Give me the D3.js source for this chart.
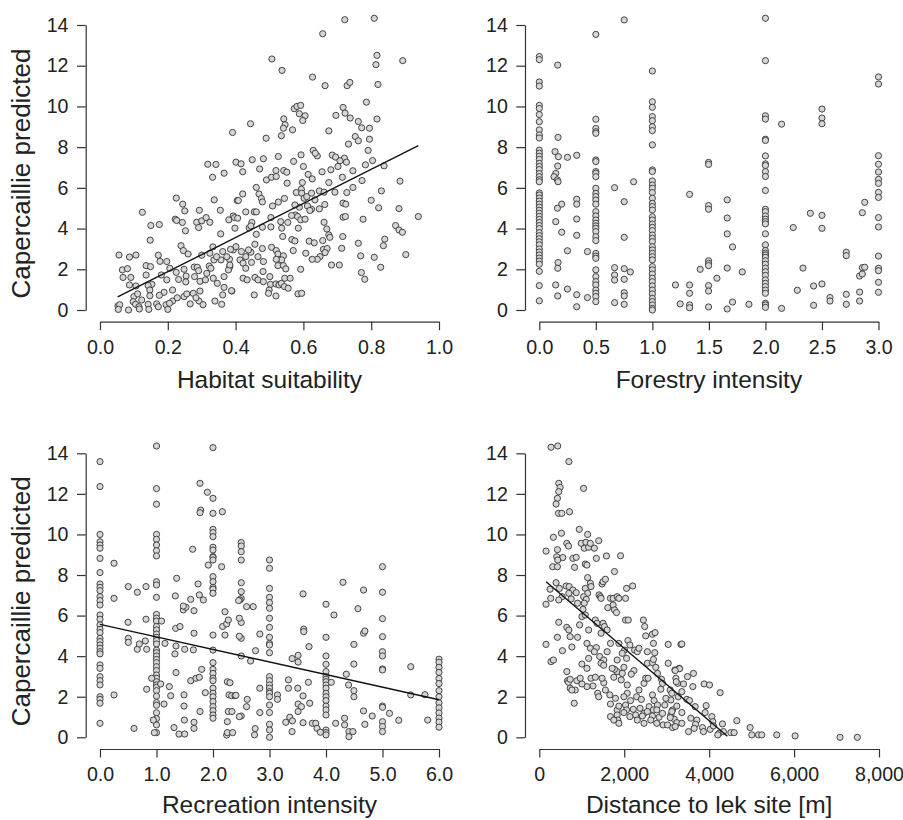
<!DOCTYPE html>
<html>
<head>
<meta charset="utf-8">
<script src="https://cdn.jsdelivr.net/npm/d3@7"></script>
<style>
  body { margin: 0; background: #fff; }
  svg { display: block; font-family: "Liberation Sans", Arial, Helvetica, sans-serif; }
  .tick text { font-size: 19.6px; fill: #222; }
  .axis path, .axis line { stroke: #333; stroke-width: 1.2; }
  .title { font-size: 24.5px; fill: #222; }
  .ylab { font-size: 26px; fill: #222; }
  .dot { fill: #d6d6d6; stroke: #333; stroke-width: 0.9; }
  .fit { stroke: #111; stroke-width: 1.4; fill: none; }
</style>
</head>
<body>
<div id="chart"></div>
<script>
// ---- data ----
var yTicks = [0, 2, 4, 6, 8, 10, 12, 14];

// habitat suitability vs predicted
var habitatPts = [
  [0.056,2.7],[0.087,2.6],[0.106,2.7],[0.066,1.97],[0.081,2.03],[0.068,1.6],[0.091,1.6],[0.087,1.23],[0.106,1.18],
  [0.053,0.2],[0.058,0.26],[0.084,0.0],[0.054,0.03],[0.1,0.66],[0.111,0.79],[0.098,0.41],[0.105,0.28],[0.115,0.16],
  [0.116,0.05],[0.125,4.8],[0.15,4.15],[0.175,4.2],[0.148,3.43],[0.136,2.18],[0.149,2.13],[0.136,1.72],[0.153,1.26],
  [0.142,1.2],[0.147,0.98],[0.147,0.7],[0.142,0.28],[0.144,0.03],[0.167,0.3],[0.172,0.16],[0.189,0.87],[0.195,0.26],
  [0.2,0.03],[0.172,2.69],[0.177,2.39],[0.197,2.38],[0.197,1.48],[0.206,2.05],[0.181,1.72],[0.225,5.5],[0.244,5.2],
  [0.25,4.87],[0.222,4.46],[0.226,4.4],[0.243,4.3],[0.252,3.89],[0.239,3.16],[0.246,2.92],[0.26,2.75],[0.225,1.85],
  [0.232,1.5],[0.214,0.44],[0.205,0.33],[0.228,0.6],[0.248,0.66],[0.256,0.79],[0.248,2.0],[0.254,1.67],[0.253,1.38],
  [0.266,0.3],[0.275,0.82],[0.279,1.64],[0.278,2.11],[0.285,4.31],[0.291,4.05],[0.293,4.9],[0.3,4.38],[0.287,2.1],
  [0.291,1.93],[0.295,1.41],[0.295,0.93],[0.292,0.44],[0.304,0.26],[0.283,0.6],[0.3,2.69],[0.313,4.54],[0.324,4.31],
  [0.318,7.16],[0.342,7.15],[0.332,6.52],[0.337,5.41],[0.355,4.9],[0.356,3.74],[0.333,3.1],[0.324,2.79],[0.322,2.16],
  [0.327,2.05],[0.334,1.56],[0.346,1.31],[0.339,0.44],[0.359,0.28],[0.366,6.72],[0.362,2.87],[0.366,1.64],[0.366,1.11],
  [0.362,0.74],[0.336,2.46],[0.357,2.46],[0.344,2.62],[0.38,4.43],[0.393,4.62],[0.398,4.02],[0.391,8.72],[0.401,7.26],
  [0.405,5.38],[0.382,2.49],[0.383,2.13],[0.389,0.93],[0.393,2.95],[0.379,1.97],[0.311,1.48],[0.315,1.8],[0.374,2.62],
  [0.214,0.98],[0.175,0.72],[0.123,0.49],
  [0.722,14.26],[0.809,14.33],[0.657,13.57],[0.507,12.33],[0.537,11.77],[0.817,12.51],[0.814,12.05],[0.893,12.25],
  [0.627,11.44],[0.664,11.02],[0.729,11.02],[0.737,11.18],[0.82,11.08],[0.786,10.21],[0.573,9.89],[0.581,10.0],
  [0.592,10.05],[0.588,9.64],[0.605,9.54],[0.598,9.31],[0.542,9.39],[0.546,9.1],[0.541,8.93],[0.535,8.56],[0.568,8.85],
  [0.444,9.15],[0.49,8.44],[0.675,8.8],[0.717,9.95],[0.723,9.67],[0.696,9.56],[0.738,9.43],[0.762,9.26],[0.772,8.95],
  [0.795,8.93],[0.817,9.38],[0.753,8.52],[0.762,8.31],[0.795,8.39],[0.791,7.84],[0.733,8.15],[0.629,7.84],[0.641,7.57],
  [0.635,7.7],[0.685,7.61],[0.695,7.51],[0.721,7.46],[0.708,7.33],[0.727,7.26],[0.702,7.05],[0.681,6.89],[0.655,6.79],
  [0.6,7.05],[0.593,7.62],[0.571,7.3],[0.526,7.54],[0.482,7.43],[0.449,7.38],[0.416,7.18],[0.421,6.79],[0.471,6.93],
  [0.519,6.85],[0.542,6.85],[0.551,6.77],[0.614,6.66],[0.626,6.44],[0.491,6.39],[0.506,6.52],[0.52,6.56],[0.552,6.23],
  [0.597,6.26],[0.594,5.93],[0.579,5.77],[0.595,5.74],[0.602,5.49],[0.61,5.57],[0.624,5.74],[0.647,5.85],[0.661,5.79],
  [0.675,6.26],[0.693,5.79],[0.715,6.52],[0.746,6.84],[0.783,7.13],[0.804,7.34],[0.773,6.36],[0.746,6.02],[0.728,5.77],
  [0.838,7.08],[0.885,6.33],[0.83,5.85],[0.8,5.39],[0.822,5.02],[0.882,4.98],[0.939,4.59],[0.776,4.46],[0.717,5.25],
  [0.725,5.2],[0.717,4.56],[0.724,4.59],[0.634,5.41],[0.663,5.18],[0.647,4.97],[0.624,4.95],[0.612,5.11],[0.619,4.89],
  [0.588,5.05],[0.575,5.16],[0.577,4.67],[0.583,4.59],[0.592,4.43],[0.605,4.46],[0.565,4.64],[0.544,5.48],[0.526,5.3],
  [0.509,5.11],[0.461,6.02],[0.469,5.7],[0.476,5.48],[0.479,5.31],[0.421,5.7],[0.408,5.38],[0.43,4.82],[0.455,4.82],
  [0.461,4.82],[0.397,4.54],[0.406,4.51],[0.448,4.3],[0.44,4.03],[0.479,4.07],[0.504,4.54],[0.504,4.08],[0.533,4.34],
  [0.536,4.02],[0.554,4.3],[0.539,3.61],[0.585,4.02],[0.661,4.31],[0.669,3.98],[0.675,3.69],[0.678,3.57],[0.716,3.61],
  [0.566,3.46],[0.575,3.39],[0.617,3.38],[0.632,3.3],[0.657,3.41],[0.57,2.92],[0.659,2.98],[0.67,3.02],[0.664,2.82],
  [0.649,2.62],[0.641,2.49],[0.626,2.49],[0.607,2.79],[0.683,2.21],[0.706,2.21],[0.713,3.03],[0.762,3.28],[0.769,2.66],
  [0.809,2.59],[0.84,3.48],[0.836,3.16],[0.872,4.15],[0.882,3.93],[0.892,3.82],[0.902,2.72],[0.828,2.1],[0.771,1.84],
  [0.781,1.51],[0.592,2.0],[0.445,4.13],[0.461,3.72],[0.457,3.23],[0.445,2.84],[0.479,3.02],[0.506,3.08],[0.52,2.92],
  [0.525,2.75],[0.541,2.66],[0.536,2.46],[0.52,2.49],[0.525,2.18],[0.541,2.18],[0.548,2.02],[0.482,2.38],[0.466,2.62],
  [0.447,2.34],[0.43,2.62],[0.438,2.95],[0.417,2.87],[0.413,2.46],[0.401,3.11],[0.422,2.3],[0.43,2.05],[0.422,1.56],
  [0.434,1.48],[0.457,1.6],[0.466,1.48],[0.481,1.89],[0.482,1.39],[0.501,1.64],[0.503,1.26],[0.499,0.98],[0.497,0.82],
  [0.519,1.28],[0.528,1.23],[0.535,1.31],[0.545,1.56],[0.561,1.56],[0.544,1.15],[0.555,1.07],[0.519,0.69],[0.455,0.74],
  [0.584,0.79],[0.595,0.82],[0.388,0.95],[0.385,2.98],[0.383,2.21]
];
var habitatLine = [[0.052, 0.64], [0.939, 8.08]];

// forestry intensity: stacked columns plus scattered points
var forestryColumns = [
  [0.0, [12.45,12.3,11.2,11.0,10.05,9.9,9.6,9.25,8.85,8.6,8.45,7.85,7.7,7.55,7.4,7.2,7.05,6.9,6.7,6.55,6.4,6.3,
         5.75,5.65,5.5,5.35,5.2,5.05,4.9,4.75,4.6,4.45,4.3,4.15,4.0,3.8,3.65,3.5,3.35,3.2,3.0,2.85,2.7,2.55,2.4,2.25,
         1.9,1.2,0.45]],
  [0.5, [13.54,9.37,8.92,8.76,8.68,7.37,7.29,6.8,6.72,6.55,5.98,5.73,5.57,5.4,5.2,4.83,4.62,4.42,4.26,4.13,4.01,
         3.85,3.6,3.41,2.78,2.65,2.54,1.97,1.64,1.39,1.23,0.98,0.82,0.66,0.41]],
  [1.0, [11.74,10.23,9.96,9.5,9.3,9.0,8.81,8.11,6.88,6.8,6.34,6.14,5.98,5.77,5.49,5.24,5.08,4.91,4.58,4.42,4.22,
         4.06,3.9,3.68,3.52,3.36,3.11,2.95,2.78,2.62,2.46,2.13,1.97,1.77,1.56,1.39,1.18,0.98,0.79,0.57,0.41,0.25,0.08,0.0]],
  [2.0, [14.33,12.25,9.54,9.38,8.39,8.33,7.57,7.18,7.1,6.8,6.56,5.87,4.95,4.83,4.62,4.46,4.34,4.23,3.74,3.2,2.92,
         2.79,2.7,2.59,2.42,2.25,2.06,1.88,1.7,1.48,1.31,1.15,0.98,0.82,0.33,0.25,0.13]],
  [2.5, [9.87,9.43,9.15,4.65,4.01,1.28]],
  [3.0, [11.45,11.1,7.58,7.16,6.78,6.42,6.22,5.78,5.53,4.54,4.08,2.65,2.05,1.93,1.36,0.87]]
];
var forestryOther = [
  [0.139,7.78],[0.163,12.03],[0.166,8.48],[0.145,6.71],[0.13,6.55],[0.16,6.39],[0.166,6.3],[0.169,7.53],[0.163,7.07],
  [0.249,7.5],[0.331,7.6],[0.198,5.2],[0.16,5.0],[0.145,4.34],[0.198,3.82],[0.331,5.44],[0.331,5.2],[0.331,4.47],
  [0.331,3.67],[0.249,2.91],[0.166,2.33],[0.163,2.05],[0.145,1.23],[0.163,0.69],[0.249,1.03],[0.331,0.75],[0.331,0.16],
  [0.426,0.61],[0.426,2.87],
  [0.666,6.01],[0.751,14.25],[0.834,6.3],[0.751,5.32],[0.751,3.57],[0.666,2.08],[0.666,1.72],[0.666,1.47],[0.751,2.03],
  [0.751,1.51],[0.805,1.87],[0.751,0.85],[0.751,0.69],[0.666,0.36],[0.751,0.28],
  [1.204,1.23],[1.246,0.3],[1.329,5.68],[1.329,1.23],[1.329,0.82],[1.329,0.25],[1.329,0.11],[1.423,2.0],[1.497,7.25],
  [1.497,7.15],[1.497,5.13],[1.497,4.95],[1.497,2.42],[1.497,2.29],[1.497,2.18],[1.497,1.2],[1.497,0.93],[1.497,0.15],
  [1.571,1.56],[1.662,5.41],[1.662,4.52],[1.662,3.74],[1.709,3.1],[1.662,2.06],[1.795,1.87],[1.709,0.39],[1.662,0.05],
  [1.854,0.28],[2.143,9.13],[2.143,0.08],[2.246,4.05],[2.332,2.06],[2.282,0.97],[2.397,4.75],[2.426,1.18],[2.426,0.23],
  [2.571,0.61],[2.571,0.44],[2.715,2.84],[2.715,2.67],[2.715,0.77],[2.715,0.28],[2.833,0.88],[2.833,0.44],[2.833,1.67],
  [2.857,1.77],[2.857,2.08],[2.878,2.1],[2.878,5.29],[2.857,4.78]
];

// recreation intensity: stacked columns plus scattered points
var recreationColumns = [
  [0, [13.59,12.36,10.0,9.64,9.48,9.32,8.82,8.12,7.56,7.39,7.23,6.93,6.74,6.52,6.03,5.82,5.54,5.32,5.16,4.88,4.72,
       4.55,4.39,4.22,4.11,3.57,3.4,2.99,2.79,2.58,2.0,1.87,1.68,0.69]],
  [1, [14.36,12.26,11.49,10.0,9.76,9.48,9.2,8.94,7.67,7.51,6.9,6.06,5.87,5.73,5.46,5.29,5.09,4.93,4.77,4.6,4.3,4.17,
       4.01,3.84,3.68,3.48,3.29,3.07,2.91,2.74,2.58,2.46,2.3,2.03,1.71,1.58,1.21,0.92,0.61,0.23]],
  [2, [14.28,11.78,11.04,10.25,10.09,9.89,9.37,9.23,8.91,8.87,8.74,7.92,7.67,7.39,7.3,7.1,5.04,4.3,3.68,3.35,3.15,
       2.91,2.79,2.42,2.17,2.0,1.76,1.51,1.31,1.1,0.94]],
  [2.5, [9.6,9.43,9.15,8.74,7.62,7.18,6.84,5.66,4.88,4.01,1.05]],
  [3, [8.74,8.33,7.34,6.9,6.64,6.36,5.87,5.42,4.93,4.63,4.55,4.17,2.99,2.79,2.58,2.42,2.25,2.17,2.0,1.59,1.22,0.64,
       0.36,0.0]],
  [4, [6.56,4.93,4.01,3.6,3.24,2.99,2.86,2.74,2.58,2.42,2.17,2.0,1.81,1.54,1.35,1.1,0.36,0.23,0.12]],
  [5, [8.41,7.15,5.85,4.96,4.22,4.01,3.37,3.32,1.54,1.48,0.77,0.53,0.28]],
  [6, [3.85,3.7,3.45,3.2,2.9,2.65,2.3,2.0,1.7,1.45,1.2,0.95,0.75,0.5]]
];
var recreationOther = [
  [0.248,2.09],[0.248,6.85],[0.248,8.58],[0.501,7.43],[0.496,5.67],[0.501,4.88],[0.501,4.68],[0.602,0.44],[0.661,7.15],
  [0.661,4.34],[0.696,4.6],[0.814,7.43],[0.814,5.82],[0.802,4.75],[0.826,4.34],[0.826,2.37],
  [0.914,2.91],[0.944,0.85],[0.962,0.23],[1.09,5.73],[1.133,1.64],[1.074,2.63],[1.15,4.63],[1.227,2.5],[1.251,2.05],
  [1.31,0.48],[1.345,3.19],[1.327,4.11],[1.339,5.37],[1.416,5.46],[1.345,4.5],[1.357,7.84],[1.333,6.97],[1.475,6.28],
  [1.522,6.41],[1.475,6.47],[1.605,6.8],[1.664,6.24],[1.64,9.27],[1.664,5.13],[1.499,4.34],[1.652,4.31],[1.398,0.16],
  [1.499,0.16],[1.493,0.85],[1.664,0.74],[1.664,0.44],[1.487,2.09],[1.487,1.54],[1.605,2.79],[1.699,2.91],[1.758,2.96],
  [1.8,3.35],[1.77,1.27],[1.864,2.2],[1.735,7.56],[1.77,12.52],[1.782,11.2],[1.77,11.07],[1.758,7.02],[1.829,6.77],
  [1.9,12.08],[1.917,8.49],
  [2.153,8.41],[2.165,11.12],[2.212,6.19],[2.17,5.46],[2.212,5.04],[2.242,5.59],[2.271,5.78],[2.254,2.74],[2.283,2.09],
  [2.33,2.05],[2.389,2.05],[2.271,1.27],[2.336,1.27],[2.254,0.77],[2.242,0.11],[2.254,0.23],[2.348,0.23],[2.466,1.02],
  [2.478,6.77],[2.466,5.87],[2.466,4.98],[2.453,6.74],[2.594,6.44],[2.712,6.44],[2.665,3.76],[2.753,4.27],[2.829,5.09],
  [2.3,2.69],[2.406,2.07],[2.606,1.87],[2.594,1.51],[2.829,2.42],[2.829,1.22],[2.747,0.43],[2.735,0.12],
  [3.141,2.09],[3.141,1.87],[3.335,2.83],[3.335,2.42],[3.288,0.74],[3.359,0.99],[3.406,0.81],[3.4,0.28],[3.4,3.88],
  [3.506,4.04],[3.506,3.71],[3.5,2.42],[3.594,7.07],[3.606,5.33],[3.606,5.21],[3.7,4.47],[3.688,2.71],[3.594,2.04],
  [3.506,1.64],[3.565,1.51],[3.506,1.27],[3.712,1.68],[3.594,0.72],[3.759,0.69],[3.818,0.69],[3.841,0.44],[3.9,0.25],
  [4.141,6.03],[4.094,2.71],[4.171,0.69],[4.3,7.64],[4.359,3.11],[4.4,2.58],[4.329,0.94],[4.329,0.61],[4.406,0.28],
  [4.406,0.03],[4.476,0.28],[4.494,4.58],[4.494,3.61],[4.494,2.3],[4.494,2.0],[4.565,6.34],[4.665,7.26],[4.665,5.13],
  [4.688,5.24],[4.665,1.3],[4.688,0.64],[4.818,1.05],
  [5.124,1.18],[5.288,0.84],[5.5,3.48],[5.5,2.09],[5.75,2.1],[5.8,0.85]
];
var recreationLine = [[0, 5.57], [6, 1.85]];

// distance to lek site [m]
var distancePts = [
  [277,14.3],[435,14.36],[696,13.59],[1043,12.27],[458,12.52],[490,12.32],[458,12.11],[427,11.78],[395,11.5],[451,11.04],
  [530,11.04],[711,11.12],[522,10.06],[332,9.86],[158,9.18],[427,9.25],[648,9.56],[688,9.43],[941,10.25],[1138,10.0],
  [988,9.56],[1099,9.61],[1059,9.32],[1162,9.37],[1296,9.32],[1399,9.69],[1202,9.56],[411,8.9],[553,8.86],[435,8.74],
  [316,8.41],[427,8.41],[791,8.82],[870,8.87],[830,8.38],[1083,8.54],[1122,8.49],[1344,8.82],[1581,8.94],[1913,8.95],
  [1771,8.17],[395,7.62],[253,7.3],[474,7.34],[632,7.46],[704,7.43],[791,7.26],[696,7.1],[538,6.93],[458,6.77],
  [751,6.82],[870,7.13],[901,6.61],[1083,7.34],[1138,7.87],[1202,7.59],[1217,7.43],[1138,7.1],[1043,6.93],[1107,6.8],
  [1059,6.61],[1028,6.31],[1478,7.56],[1502,7.67],[1557,7.79],[1407,7.02],[1439,6.93],[1455,6.85],[1613,6.39],[1676,6.85],
  [1739,6.85],[1739,6.52],[1834,6.93],[1874,6.85],[1771,6.28],[1818,6.15],[2032,6.85],[2055,7.34],[2198,7.46],[2032,5.78],
  [2095,5.78],[2451,5.78],[2482,5.46],[2506,5.0],[2664,5.08],[2727,5.16],[158,6.56],[269,6.85],[458,5.67],[158,4.58],
  [277,3.73],[427,4.93],[545,4.27],[648,5.42],[696,5.29],[727,4.96],[767,4.45],[901,4.93],[949,5.54],[1004,5.95],
  [1083,6.03],[1162,5.29],[1122,4.63],[1202,4.39],[1320,5.78],[1360,5.62],[1502,5.62],[1534,5.46],[1597,5.29],[1455,5.13],
  [1344,4.42],[1296,4.22],[1423,3.98],[1518,3.81],[1455,3.65],[1162,3.89],[1004,3.61],[1122,3.4],[1217,2.91],[1320,2.96],
  [1265,2.53],[1122,2.5],[1004,2.63],[885,2.79],[664,2.79],[727,2.42],[846,2.33],[822,1.68],[688,2.71],[1375,2.17],
  [1399,2.0],[1518,2.69],[1557,2.33],[1660,2.09],[1676,1.64],[1794,1.92],[1834,1.35],[1834,1.1],[1850,0.85],[1874,1.54],
  [1834,3.81],[1834,3.24],[1771,3.35],[1755,2.96],[1953,3.15],[1929,2.83],[1992,3.45],[2055,3.89],[2087,4.77],[2134,4.55],
  [2008,4.3],[2245,4.3],[2308,4.22],[2348,4.39],[2229,3.29],[2166,3.11],[2071,2.58],[2071,2.17],[1992,2.0],[2032,1.59],
  [2055,1.35],[2150,1.81],[2213,1.38],[2269,1.1],[2292,2.0],[2348,2.33],[2403,1.87],[2466,2.66],[2506,2.91],[2561,2.91],
  [2545,3.65],[2664,3.68],[2743,3.45],[2783,3.15],[2688,3.84],[2719,4.17],[2545,4.22],[2688,4.63],[2877,2.86],[2901,2.66],
  [2862,2.37],[2664,2.09],[2704,1.81],[2585,1.51],[2688,1.35],[2783,1.59],[2664,1.05],[2466,1.18],[2372,1.43],[2916,0.61],
  [3036,3.65],[3036,4.58],[3083,2.33],[3099,1.84],[3138,1.35],[3099,1.1],[3178,0.89],[3138,0.48],[3241,0.69],[3194,3.32],
  [3217,2.91],[3257,2.66],[3273,2.0],[3296,3.4],[3336,4.58],[3083,0.97],
  [3357,4.6],[3302,3.38],[3200,3.29],[3631,3.15],[3490,2.99],[3224,2.74],[3396,2.63],[3616,2.5],[3357,2.25],[3122,2.17],
  [3882,2.63],[4008,2.58],[4259,2.2],[3475,1.87],[3537,1.81],[3671,1.51],[3929,1.56],[3239,1.54],[3357,1.22],[3122,1.27],
  [3906,1.22],[4063,1.02],[3569,0.94],[3710,0.85],[3239,0.72],[3357,0.69],[3200,0.53],[3679,0.64],[3843,0.48],[3647,0.44],
  [3514,0.28],[3867,0.28],[4024,0.39],[4086,0.77],[4314,0.66],[4235,0.2],[4337,0.28],[4204,0.12],[4510,0.23],[4588,0.23],
  [4651,0.82],[4965,0.48],[5004,0.12],[5161,0.12],[5239,0.12],[5592,0.12],[6024,0.07],[7082,0.0],[7490,0.0],[4102,0.56],
  [1676,1.02],[1755,0.85],[1874,0.69],[1992,1.22],[2134,1.02],[2308,0.85],[2427,1.05],[2545,1.27],[2625,0.85],[2767,0.69],
  [2822,0.99],[2901,1.18],[2956,1.59],[2980,1.92],[3020,0.61],[2767,1.35],[2466,0.69],[332,3.81],[727,2.86],[767,2.33],
  [964,2.91],[648,3.24],[1518,3.55],[1676,4.63],[1874,4.63],[1953,4.14],[1597,4.22],[1716,3.4],[1478,2.91]
];
var distanceLine = [[160, 7.67], [4430, 0.05]];

// expand column-style data into points
function expand(cols, other) {
  var pts = [];
  cols.forEach(function(c) {
    c[1].forEach(function(v) { pts.push([c[0], v]); });
  });
  return pts.concat(other);
}

var panels = [
  { pts: habitatPts, line: habitatLine, domain: [0, 1], ticks: [0, 0.2, 0.4, 0.6, 0.8, 1.0], fmt: d3.format(".1f"),
    title: "Habitat suitability", left: 100, right: 439, top: 25, bottom: 310, titleY: 388, ylab: true },
  { pts: expand(forestryColumns, forestryOther), line: null, domain: [0, 3], ticks: [0, 0.5, 1, 1.5, 2, 2.5, 3],
    fmt: d3.format(".1f"), title: "Forestry intensity", left: 539.3, right: 878.5, top: 25, bottom: 310, titleY: 388, ylab: false },
  { pts: expand(recreationColumns, recreationOther), line: recreationLine, domain: [0, 6], ticks: [0, 1, 2, 3, 4, 5, 6],
    fmt: d3.format(".1f"), title: "Recreation intensity", left: 100, right: 439, top: 453.3, bottom: 737.3, titleY: 812.5, ylab: true },
  { pts: distancePts, line: distanceLine, domain: [0, 8000], ticks: [0, 2000, 4000, 6000, 8000], fmt: d3.format(","),
    title: "Distance to lek site [m]", left: 539.3, right: 879, top: 453.3, bottom: 737.3, titleY: 812.5, ylab: false }
];

var svg = d3.select("#chart").append("svg")
  .attr("width", 903)
  .attr("height", 820);

panels.forEach(function(p) {
  var x = d3.scaleLinear().domain(p.domain).range([p.left, p.right]);
  var y = d3.scaleLinear().domain([0, 14]).range([p.bottom, p.top]);
  var g = svg.append("g");

  // R-style detached axes
  g.append("g")
    .attr("class", "axis")
    .attr("transform", `translate(0, ${p.bottom + 11.7})`)
    .call(d3.axisBottom(x).tickValues(p.ticks).tickFormat(p.fmt).tickSize(8.5).tickSizeOuter(0).tickPadding(9.5));

  g.append("g")
    .attr("class", "axis")
    .attr("transform", `translate(${p.left - 14.3}, 0)`)
    .call(d3.axisLeft(y).tickValues(yTicks).tickSize(8.7).tickSizeOuter(0).tickPadding(8.5));

  g.selectAll(".dot")
    .data(p.pts)
    .enter()
    .append("circle")
    .attr("class", "dot")
    .attr("cx", d => x(d[0]))
    .attr("cy", d => y(d[1]))
    .attr("r", 3.1);

  if (p.line) {
    g.append("path")
      .attr("class", "fit")
      .attr("d", d3.line().x(d => x(d[0])).y(d => y(d[1]))(p.line));
  }

  g.append("text")
    .attr("class", "title")
    .attr("text-anchor", "middle")
    .attr("x", (p.left + p.right) / 2)
    .attr("y", p.titleY)
    .text(p.title);

  if (p.ylab) {
    g.append("text")
      .attr("class", "ylab")
      .attr("text-anchor", "middle")
      .attr("transform", `translate(30, ${(p.top + p.bottom) / 2 + 6}) rotate(-90)`)
      .text("Capercaillie predicted");
  }
});
</script>
</body>
</html>
